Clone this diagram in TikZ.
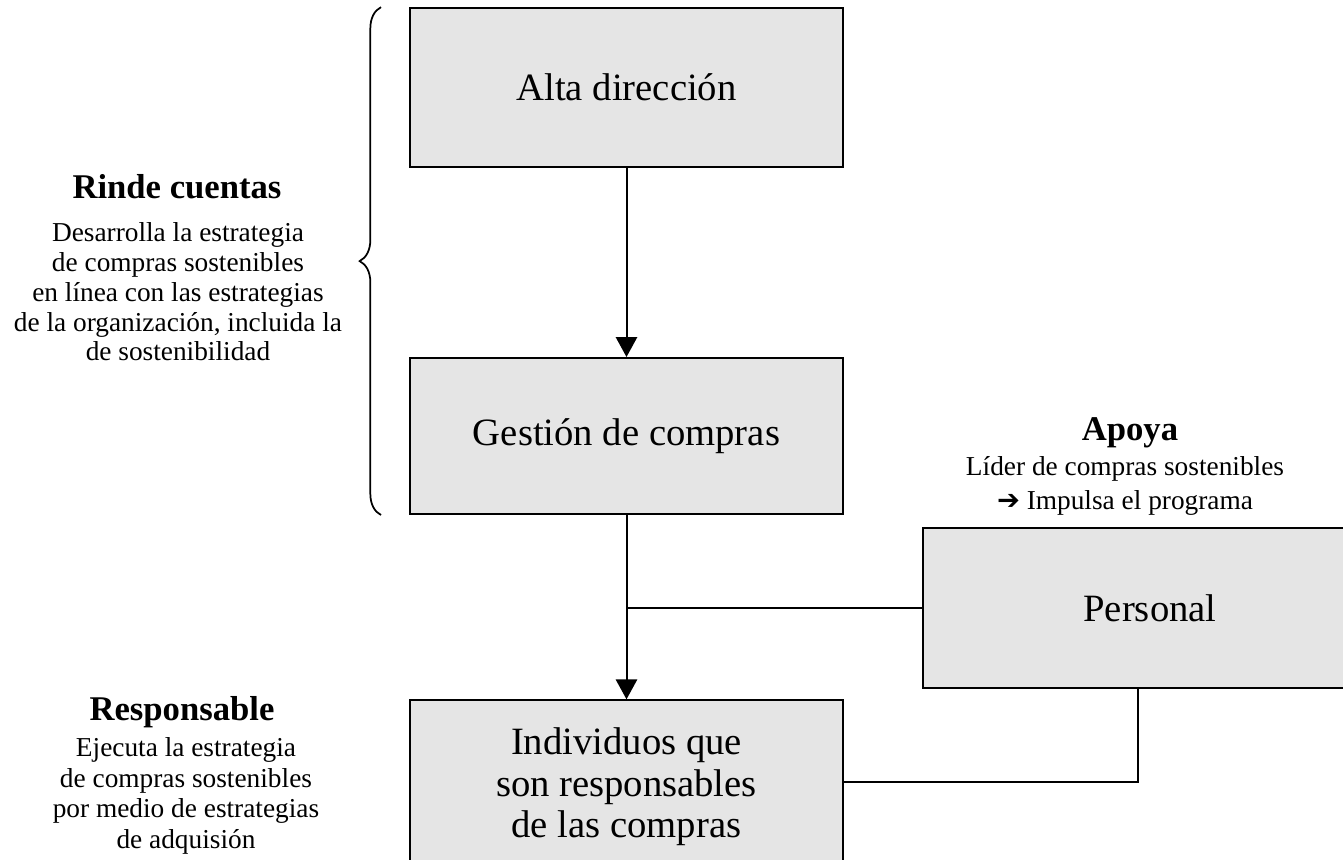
\documentclass[tikz,border=0pt]{standalone}
\usepackage{fontspec}
\setmainfont{Liberation Serif}
\newfontfamily\arrowfont{DejaVu Sans}
\usetikzlibrary{positioning, arrows.meta, decorations.pathreplacing}

\begin{document}
\begin{tikzpicture}[x=0.75pt, y=0.75pt,
    box/.style={rectangle, draw=black, line width=1.5pt, fill=black!10,
                minimum width=324.75pt, minimum height=119pt, align=center,
                font=\fontsize{29}{31}\selectfont},
    arrow/.style={-{Triangle[length=15pt, width=16pt]}, line width=1.5pt},
    link/.style={line width=1.5pt},
    heading/.style={font=\fontsize{26}{30}\selectfont\bfseries},
    note/.style={align=center, font=\fontsize{20.5}{22.3}\selectfont}
]
    \useasboundingbox (0,0) rectangle (1343,-860);

    % Boxes
    \node[box] (alta) at (626.5,-87.5) {Alta dirección};
    \node[box, minimum height=117pt] (gestion) at (626.5,-436) {Gestión de compras};
    \node[box, minimum height=130pt] (indiv) at (626.5,-787) {Individuos que\\son responsables\\de las compras};
    \node[box, minimum width=340.5pt, minimum height=120pt] (personal) at (1150,-608) {Personal};

    % Rinde cuentas
    \node[heading] (rinde) at (177,-187) {Rinde cuentas};
    \node[note] (rindetxt) at (178,-292) {Desarrolla la estrategia\\de compras sostenibles\\en línea con las estrategias\\de la organización, incluida la\\de sostenibilidad};
    \draw[decorate, decoration={brace, amplitude=16pt}, line width=1.3pt]
        ([xshift=-21pt]gestion.south west) -- ([xshift=-21pt]alta.north west);

    % Apoya
    \node[heading] (apoya) at (1130,-433) {Apoya};
    \node[note, font=\fontsize{20.5}{25.5}\selectfont] (apoyatxt) at (1125,-486) {Líder de compras sostenibles\\{\arrowfont ➔}\ Impulsa el programa};

    % Responsable
    \node[heading] (resp) at (182,-712) {Responsable};
    \node[note, font=\fontsize{20.5}{23}\selectfont] (resptxt) at (186,-796) {Ejecuta la estrategia\\de compras sostenibles\\por medio de estrategias\\de adquisión};

    % Connectors
    \coordinate (junct) at (gestion.south |- personal.west);
    \draw[arrow] (alta) -- (gestion);
    \draw[arrow] (gestion) -- (indiv);
    \draw[line width=1pt] (junct) -- (personal.west);
    \draw[link] (indiv.east |- 0,-782) -| ([xshift=-9pt]personal.south);

\end{tikzpicture}
\end{document}
